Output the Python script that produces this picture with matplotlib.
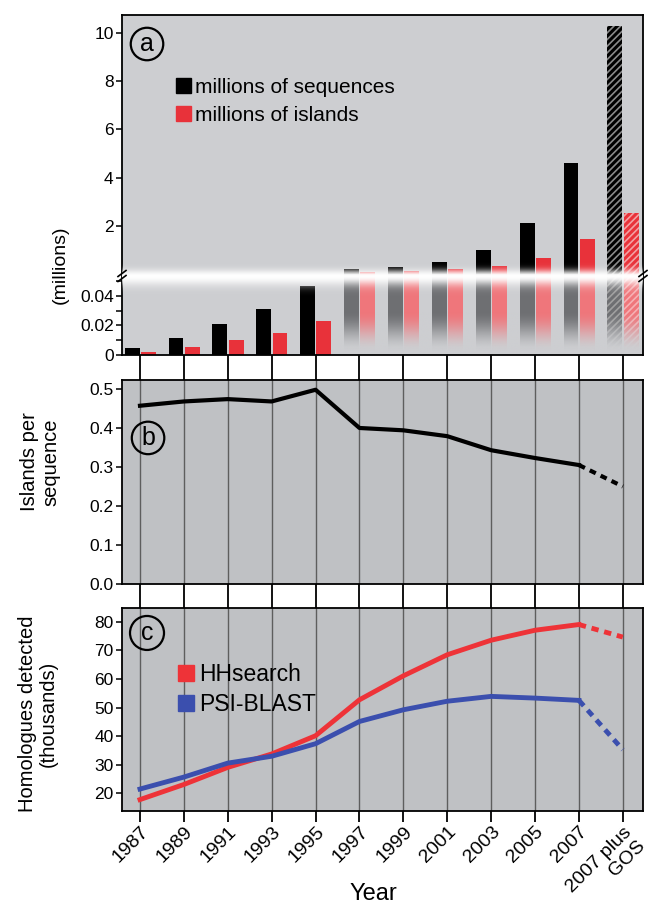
import numpy as np
import matplotlib
matplotlib.use('Agg')
import matplotlib.pyplot as plt
from matplotlib.patches import Patch
from matplotlib.lines import Line2D
from matplotlib.ticker import MultipleLocator, FormatStrFormatter

plt.rcParams['font.family'] = ['Liberation Sans', 'DejaVu Sans']
plt.rcParams['hatch.linewidth'] = 1.2

# data
years = ['1987', '1989', '1991', '1993', '1995', '1997', '1999', '2001',
         '2003', '2005', '2007', '2007 plus\nGOS']
sequences = [0.0045, 0.0114, 0.021, 0.0314, 0.0469, 0.2, 0.28, 0.5, 1.0, 2.1, 4.62, 10.3]
islands = [0.002, 0.0054, 0.0103, 0.0146, 0.0228, 0.08, 0.11, 0.19, 0.35, 0.68, 1.45, 2.55]
isl_per_seq = [0.457, 0.468, 0.474, 0.468, 0.498, 0.400, 0.394, 0.379, 0.343, 0.323, 0.305, 0.250]
hhsearch = [17.7, 23.0, 29.0, 33.7, 40.1, 52.7, 61.1, 68.5, 73.6, 77.1, 79.1, 74.7]
psiblast = [21.4, 25.6, 30.5, 32.9, 37.3, 45.1, 49.2, 52.2, 53.9, 53.3, 52.5, 35.2]

BG_A = '#cdced1'
BG_BC = '#bfc1c4'
RED = '#e8323a'
GREY = '#6e6f72'
PINK = '#ef767b'
LRED = '#ee3338'
BLUE = '#3b4fae'
GRID = '#5e5e5e'

x = np.arange(len(years))
bw = 0.34
xb = x - 0.18
xr = x + 0.19
n_old = 5   # first 5 years fit in the lower scale
XL = (-0.41, 11.46)

fig = plt.figure(figsize=(6.48, 9.09), dpi=100)
W, H = 648, 909
L, AW = 122 / W, 521 / W
ax_top = fig.add_axes([L, 1 - 274 / H, AW, 259 / H])
ax_low = fig.add_axes([L, 1 - 355 / H, AW, 81 / H])
ax_b = fig.add_axes([L, 1 - 584 / H, AW, 204 / H])
ax_c = fig.add_axes([L, 1 - 811 / H, AW, 203 / H])

for ax in (ax_top, ax_low, ax_b, ax_c):
    ax.set_xlim(*XL)
    for s in ax.spines.values():
        s.set_linewidth(1.3)
    ax.tick_params(axis='y', direction='out', length=4, width=1.1, labelsize=12.5, pad=2)
    ax.set_xticks(x)

# ---- panel a, top part
ax_top.set_facecolor(BG_A)
ax_top.set_ylim(0, 10.75)
ax_top.set_yticks([2, 4, 6, 8, 10])
ax_top.spines['bottom'].set_visible(False)
ax_top.tick_params(axis='x', bottom=False, labelbottom=False)
for i in range(n_old, len(years)):
    last = i == len(years) - 1
    ax_top.bar(xb[i], sequences[i], bw, color='black', edgecolor='#8a8a8a' if last else 'black',
               linewidth=0, hatch='/////' if last else None, zorder=2)
    ax_top.bar(xr[i], islands[i], bw, color=RED, edgecolor='#f4a0a3' if last else RED,
               linewidth=0, hatch='/////' if last else None, zorder=2)
ax_top.text(0.048, 0.888, 'a', transform=ax_top.transAxes, fontsize=18, ha='center', va='center',
            bbox=dict(boxstyle='circle,pad=0.17', fc='none', ec='black', lw=1.6))
ax_top.legend(handles=[Patch(color='black', label='millions of sequences'),
                       Patch(color=RED, label='millions of islands')],
              loc='upper left', bbox_to_anchor=(0.088, 0.79), frameon=False, fontsize=15,
              handlelength=0.72, handleheight=0.72, handletextpad=0.2, labelspacing=0.45,
              borderaxespad=0)

# ---- panel a, lower part
ax_low.set_facecolor(BG_A)
ax_low.set_ylim(0, 0.0549)
ax_low.set_yticks([0, 0.02, 0.04])
ax_low.set_yticklabels(['0', '0.02', '0.04'])
ax_low.yaxis.set_minor_locator(MultipleLocator(0.01))
ax_low.tick_params(axis='y', which='minor', direction='out', length=4, width=1.1)
ax_low.spines['top'].set_visible(False)
ax_low.tick_params(axis='x', direction='out', length=18, width=1.3, labelbottom=False)
for i in range(len(years)):
    last = i == len(years) - 1
    old = i < n_old
    ax_low.bar(xb[i], sequences[i], bw, color='black' if old else GREY,
               edgecolor='#a0a0a0' if last else 'none', linewidth=0,
               hatch='/////' if last else None, zorder=2)
    ax_low.bar(xr[i], islands[i], bw, color=RED if old else PINK,
               edgecolor='#f7b0b3' if last else 'none', linewidth=0,
               hatch='/////' if last else None, zorder=2)
# fade the cut bars towards the bottom
yy = np.linspace(0, 1, 200)
t = np.clip((yy * 0.0549 - 0.003) / 0.027, 0, 1)
alpha = 1 - t * t * (3 - 2 * t)
fade = np.zeros((200, 2, 4))
fade[..., :3] = matplotlib.colors.to_rgb(BG_A)
fade[..., 3] = alpha[:, None]
ax_low.imshow(fade, extent=[n_old - 0.45, XL[1], 0, 0.0549], origin='lower',
              aspect='auto', zorder=2.2, interpolation='bilinear')
ax_low.set_xlim(*XL)

# white band across the axis break
band = fig.add_axes([L, 1 - 296 / H, AW, 40 / H])
band.axis('off')
rows = np.arange(40) + 256          # pixel rows from top
d = rows - 276
ba = np.where(d < 0, np.exp(-(d / 6.0) ** 2), np.exp(-(d / 9.0) ** 2))
bimg = np.ones((40, 2, 4))
bimg[..., 3] = ba[:, None]
band.imshow(bimg, extent=[0, 1, 0, 1], aspect='auto', origin='upper', interpolation='bilinear')
band.set_xlim(0, 1)
band.set_ylim(0, 1)

# break marks
for xp in (122, 643):
    for off in (-2.5, 2.5):
        fig.add_artist(Line2D([(xp - 4) / W, (xp + 4) / W],
                              [1 - (276 + off + 3) / H, 1 - (276 + off - 3) / H],
                              color='black', lw=1.2))

fig.text(60 / W, 1 - 265 / H, '(millions)', rotation=90, ha='center', va='center', fontsize=14)

# ---- panel b
ax_b.set_facecolor(BG_BC)
ax_b.set_axisbelow(True)
ax_b.grid(axis='x', color=GRID, lw=1)
ax_b.set_ylim(0, 0.523)
ax_b.set_yticks(np.arange(0, 0.51, 0.1))
ax_b.yaxis.set_major_formatter(FormatStrFormatter('%.1f'))
ax_b.tick_params(axis='x', direction='out', length=18, width=1.3, labelbottom=False)
ax_b.plot(x[:-1], isl_per_seq[:-1], color='black', lw=3, solid_joinstyle='round', zorder=3)
ax_b.plot(x[-2:], isl_per_seq[-2:], color='black', lw=3, dashes=(1.6, 1.3), zorder=3)
ax_b.text(0.05, 0.716, 'b', transform=ax_b.transAxes, fontsize=18, ha='center', va='center',
          bbox=dict(boxstyle='circle,pad=0.17', fc='none', ec='black', lw=1.6))
fig.text(40 / W, 1 - 462 / H, 'Islands per\nsequence', rotation=90, ha='center', va='center',
         fontsize=14.5, linespacing=1.15)

# ---- panel c
ax_c.set_facecolor(BG_BC)
ax_c.set_axisbelow(True)
ax_c.grid(axis='x', color=GRID, lw=1)
ax_c.set_ylim(13.7, 84.9)
ax_c.set_yticks(np.arange(20, 81, 10))
ax_c.plot(x[:-1], hhsearch[:-1], color=LRED, lw=3.5, zorder=3)
ax_c.plot(x[-2:], hhsearch[-2:], color=LRED, lw=3.5, dashes=(1.5, 1.2), zorder=3)
ax_c.plot(x[:-1], psiblast[:-1], color=BLUE, lw=3.5, zorder=3)
ax_c.plot(x[-2:], psiblast[-2:], color=BLUE, lw=3.5, dashes=(1.5, 1.2), zorder=3)
ax_c.text(0.048, 0.877, 'c', transform=ax_c.transAxes, fontsize=18, ha='center', va='center',
          bbox=dict(boxstyle='circle,pad=0.2', fc='none', ec='black', lw=1.6))
ax_c.legend(handles=[Patch(color=LRED, label='HHsearch'), Patch(color=BLUE, label='PSI-BLAST')],
            loc='upper left', bbox_to_anchor=(0.09, 0.775), frameon=False, fontsize=16.5,
            handlelength=0.7, handleheight=0.7, handletextpad=0.2, labelspacing=0.3,
            borderaxespad=0)
ax_c.tick_params(axis='x', direction='out', length=8, width=1.3, labelsize=14, pad=1)
ax_c.set_xticklabels(years, rotation=45, ha='right', rotation_mode='anchor')
fig.text(38 / W, 1 - 714 / H, 'Homologues detected\n(thousands)', rotation=90, ha='center',
         va='center', fontsize=14.5, linespacing=1.15)
fig.text(373 / W, 1 - 894 / H, 'Year', ha='center', va='center', fontsize=17)

fig.savefig('out.png', dpi=100)
